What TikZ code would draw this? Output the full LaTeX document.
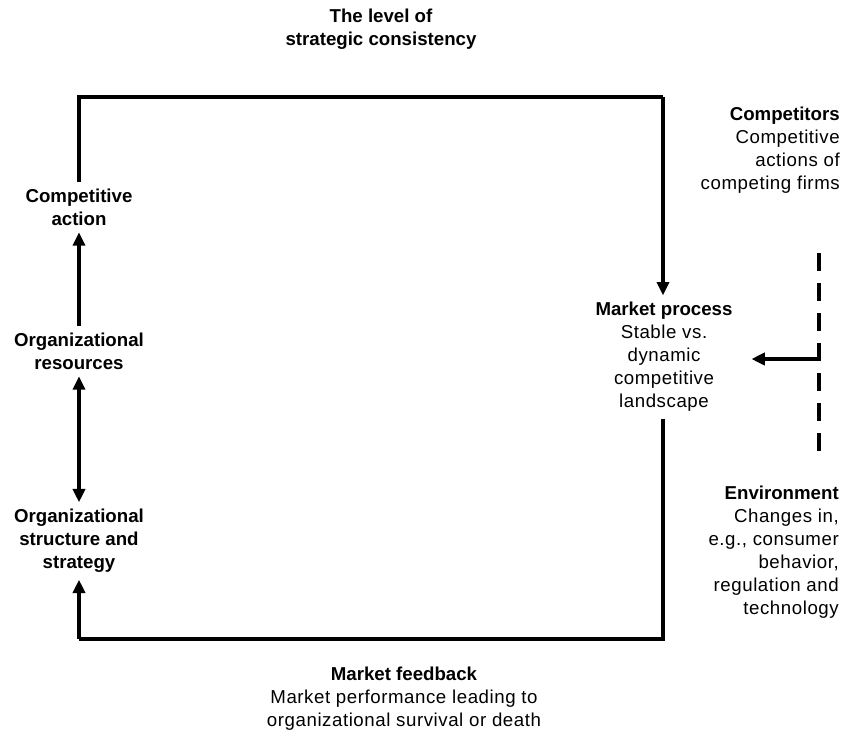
\documentclass[tikz,border=0pt]{standalone}
\usepackage{fontspec}
\setmainfont{Liberation Sans}[LetterSpace=3]
\newfontfamily\headfont{Liberation Sans}
\usetikzlibrary{arrows.meta}

\newcommand{\hd}[1]{{\headfont\bfseries #1}}

\begin{document}
\begin{tikzpicture}[
    x=0.75pt, y=-0.75pt,
    txt node/.style={align=center, inner sep=5pt, font=\fontsize{14}{17.25}\selectfont},
    right node/.style={align=right, inner sep=0pt, anchor=east, font=\fontsize{14}{17.25}\selectfont},
    loop edge/.style={line width=2.6pt, draw=black},
    flow edge/.style={line width=2.6pt, draw=black, -{Triangle[length=10pt,width=9pt]}},
    both edge/.style={line width=2.6pt, draw=black, {Triangle[length=10pt,width=9pt]}-{Triangle[length=10pt,width=9pt]}},
    env edge/.style={line width=2.6pt, draw=black, dash pattern=on 13.5pt off 9pt}
]
\useasboundingbox (0,0) rectangle (846,738);

% texte
\node[txt node] (title) at (381,29.5) {\hd{The level of}\\ \hd{strategic consistency}};
\node[txt node] (act) at (79,207) {\hd{Competitive}\\ \hd{action}};
\node[txt node] (res) at (79,351) {\hd{Organizational}\\ \hd{resources}};
\node[txt node] (strat) at (79,541) {\hd{Organizational}\\ \hd{structure and}\\ \hd{strategy}};
\node[txt node] (mkt) at (664,357) {\hd{Market process}\\ Stable vs.\\ dynamic\\ competitive\\ landscape};
\node[right node] (comp) at (840,150.5) {\hd{Competitors}\\ Competitive\\ actions of\\ competing firms};
\node[right node] (env) at (839,552.5) {\hd{Environment}\\ Changes in,\\ e.g., consumer\\ behavior,\\ regulation and\\ technology};
\node[txt node] (fb) at (404,699) {\hd{Market feedback}\\ Market performance leading to\\ organizational survival or death};

% Ecken der Schleife
\coordinate (tl) at (79,97);
\coordinate (tr) at (663,97);
\coordinate (br) at (663,639);
\coordinate (bl) at (79,639);
\coordinate (dtop) at (819,253);
\coordinate (dbot) at (819,451);
\coordinate (djoin) at (819,359);

% Verbindungen
\draw[loop edge] (act.north) -- (tl) -- (tr);
\draw[flow edge] (tr) -- (tr |- mkt.north);
\draw[loop edge] (br |- mkt.south) -- (br) -- (bl);
\draw[flow edge] (bl) -- (strat.south);
\draw[flow edge] (res.north) -- (act.south);
\draw[both edge] (res.south) -- (strat.north);
\draw[env edge] (dtop) -- (dbot);
\draw[flow edge, shorten >=9pt] (djoin) -- (mkt.east |- djoin);

\end{tikzpicture}
\end{document}
